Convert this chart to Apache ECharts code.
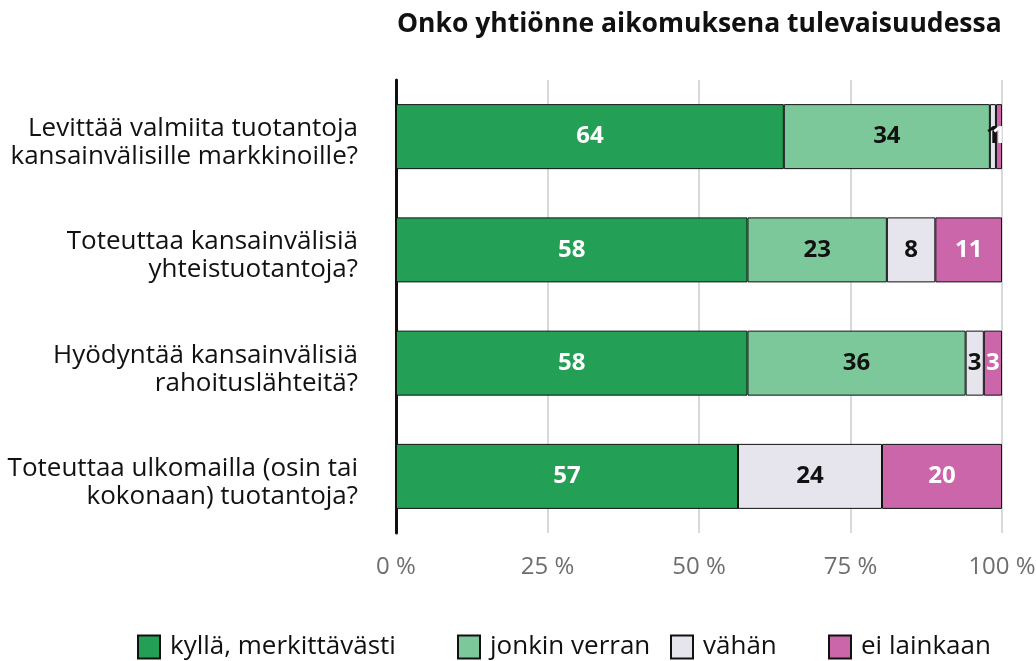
<!DOCTYPE html>
<html>
<head>
<meta charset="utf-8">
<script src="https://cdn.jsdelivr.net/npm/echarts@6/dist/echarts.min.js"></script>
<style>
  html, body { margin: 0; padding: 0; background: #fff; }
  #chart { width: 1036px; height: 661px; }
</style>
</head>
<body>
<div id="chart"></div>
<script>
// kysymykset (ylhäältä alas)
var questions = [
  'Levittää valmiita tuotantoja\nkansainvälisille markkinoille?',
  'Toteuttaa kansainvälisiä\nyhteistuotantoja?',
  'Hyödyntää kansainvälisiä\nrahoituslähteitä?',
  'Toteuttaa ulkomailla (osin tai\nkokonaan) tuotantoja?'
];
var answerNames = ['kyllä, merkittävästi', 'jonkin verran', 'vähän', 'ei lainkaan'];
var answerColors = ['#23a055', '#7dc89a', '#e6e4ec', '#cc66aa'];
var labelColors = ['#fff', '#111', '#111', '#fff'];

// prosentit per vastaus, yksi arvo per kysymys
var kylla = [64, 58, 58, 57];
var jonkin = [34, 23, 36, 0];
var vahan = [1, 8, 3, 24];
var eiLainkaan = [1, 11, 3, 20];

var xTicks = [0, 25, 50, 75, 100];
var answers = [kylla, jonkin, vahan, eiLainkaan];

var font = 'Open Sans';
var chart = echarts.init(document.getElementById('chart'));

// rivisummat -> palkit skaalataan 100 %:iin
var rowSums = questions.map(function (q, i) {
  return answers.reduce(function (s, a) { return s + a[i]; }, 0);
});

var series = answers.map(function (vals, k) {
  return {
    name: answerNames[k],
    type: 'bar',
    stack: 'all',
    barWidth: 65,
    itemStyle: { color: answerColors[k], borderColor: '#111', borderWidth: 1 },
    label: {
      show: true,
      position: 'inside',
      color: labelColors[k],
      fontFamily: font,
      fontWeight: 'bold',
      fontSize: 24,
      formatter: function (p) { return p.data.raw ? String(p.data.raw) : ''; }
    },
    data: vals.map(function (v, i) {
      return { value: v / rowSums[i] * 100, raw: v };
    })
  };
});

var legendLeft = [137, 457, 670, 828];

chart.setOption({
  animation: false,
  title: {
    text: 'Onko yhtiönne aikomuksena tulevaisuudessa',
    left: 392,
    top: 6,
    textStyle: { fontFamily: font, fontWeight: 'bold', fontSize: 26.5, color: '#111' }
  },
  legend: answerNames.map(function (n, k) {
    return {
      data: [n],
      icon: 'rect',
      left: legendLeft[k] - 5,
      top: 629,
      itemWidth: 22,
      itemHeight: 23,
      itemGap: 10,
      textStyle: { fontFamily: font, fontSize: 26, color: '#111', padding: [0, 0, 0, 5] }
    };
  }),
  grid: { left: 396, right: 34, top: 80, bottom: 128, outerBoundsMode: 'none' },
  xAxis: {
    type: 'value',
    min: 0,
    max: 100,
    interval: 25,
    axisLine: { show: false },
    axisTick: { show: false },
    splitLine: { show: true, lineStyle: { color: '#d9d9d9', width: 2 } },
    axisLabel: {
      margin: 22,
      fontFamily: font,
      fontSize: 24,
      color: '#6e6e6e',
      formatter: function (v) { return xTicks.indexOf(v) >= 0 ? v + ' %' : ''; }
    }
  },
  yAxis: {
    type: 'category',
    inverse: true,
    data: questions,
    axisLine: { show: true, lineStyle: { color: '#111', width: 3 } },
    axisTick: { show: false },
    axisLabel: {
      margin: 38,
      align: 'right',
      // tyhjä ohut ensirivi siirtää tekstiä hieman alaspäin
      formatter: function (v) {
        return '{sp|}\n' + v.split('\n').map(function (s) { return '{t|' + s + '}'; }).join('\n');
      },
      rich: {
        sp: { lineHeight: 12, fontSize: 10 },
        t: { fontFamily: font, fontSize: 26, lineHeight: 28, color: '#111', align: 'right' }
      }
    }
  },
  series: series
});
</script>
</body>
</html>
